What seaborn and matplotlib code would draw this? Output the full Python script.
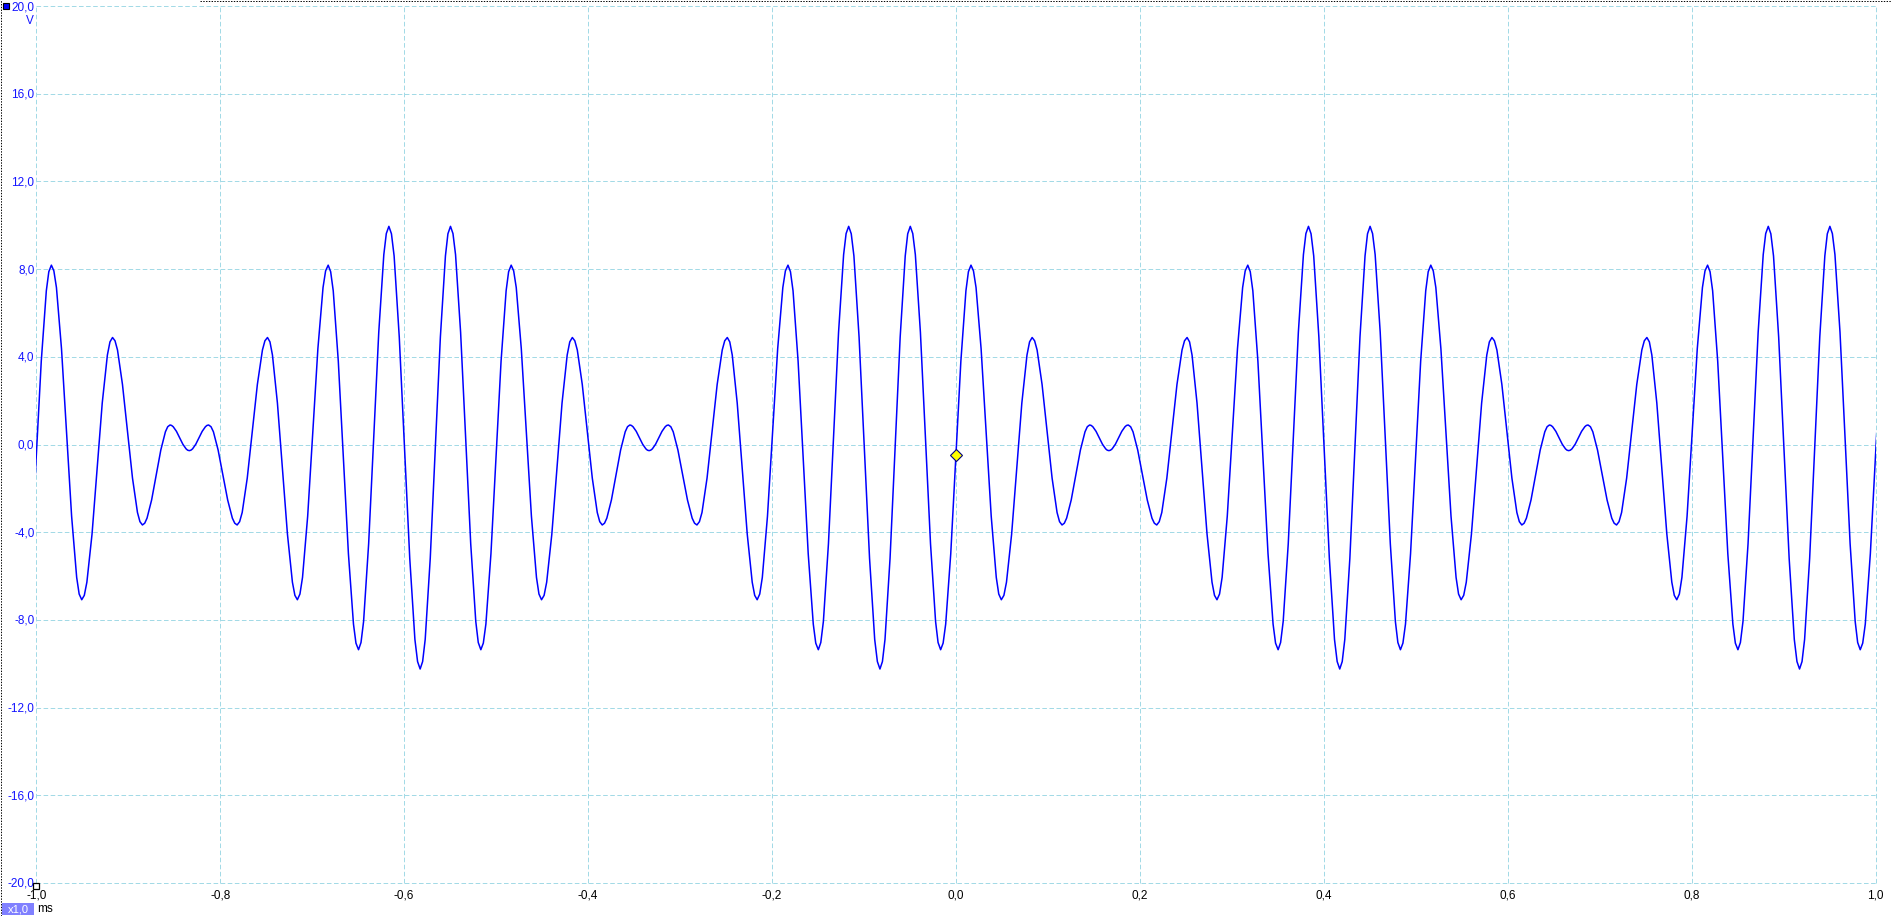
import numpy as np
import pandas as pd
import matplotlib
matplotlib.use("Agg")
import matplotlib.pyplot as plt
import matplotlib.patches as mpatches
import seaborn as sns

# one period of the trace (ms, V); the trace repeats every 0.5 ms
period_t = [
    -1.018, -1.0153, -1.0125, -1.007, -1.0015, -0.996, -0.9905, -0.9878,
    -0.985, -0.9823, -0.9795, -0.974, -0.9685, -0.963, -0.9575, -0.9548,
    -0.952, -0.9492, -0.9464, -0.9408, -0.9353, -0.9297, -0.9241, -0.9213,
    -0.9185, -0.9158, -0.9131, -0.9077, -0.9023, -0.8968, -0.8914, -0.8887,
    -0.886, -0.8835, -0.881, -0.876, -0.871, -0.866, -0.861, -0.8585,
    -0.856, -0.8543, -0.8525, -0.849, -0.8455, -0.842, -0.8385, -0.8368,
    -0.835, -0.8333, -0.8315, -0.828, -0.8245, -0.821, -0.8175, -0.8158,
    -0.814, -0.8114, -0.8088, -0.8037, -0.7985, -0.7933, -0.7882, -0.7856,
    -0.783, -0.7803, -0.7775, -0.772, -0.7665, -0.761, -0.7555, -0.7528,
    -0.750, -0.7473, -0.7446, -0.7392, -0.7338, -0.7283, -0.7229, -0.7202,
    -0.7175, -0.7147, -0.7119, -0.7063, -0.7008, -0.6952, -0.6896, -0.6868,
    -0.684, -0.6813, -0.6785, -0.673, -0.6675, -0.662, -0.6565, -0.6538,
    -0.651, -0.6483, -0.6455, -0.640, -0.6345, -0.629, -0.6235, -0.6208,
    -0.618, -0.6152, -0.6123, -0.6067, -0.601, -0.5953, -0.5897, -0.5868,
    -0.584, -0.5813, -0.5785, -0.573, -0.5675, -0.562, -0.5565, -0.5538,
    -0.551, -0.5483, -0.5455, -0.540, -0.5345, -0.529, -0.5235, -0.5208,
]
period_v = [
    -9.36, -9.06, -8.19, -4.98, -0.59, 3.80, 7.01, 7.88,
    8.18, 7.92, 7.16, 4.37, 0.55, -3.27, -6.06, -6.82,
    -7.08, -6.88, -6.28, -4.09, -1.10, 1.89, 4.08, 4.68,
    4.88, 4.73, 4.31, 2.74, 0.61, -1.53, -3.10, -3.52,
    -3.67, -3.59, -3.36, -2.53, -1.39, -0.25, 0.58, 0.81,
    0.89, 0.87, 0.81, 0.60, 0.31, 0.01, -0.20, -0.26,
    -0.28, -0.26, -0.20, 0.01, 0.31, 0.60, 0.81, 0.87,
    0.89, 0.81, 0.58, -0.25, -1.39, -2.53, -3.36, -3.59,
    -3.67, -3.52, -3.10, -1.53, 0.61, 2.74, 4.31, 4.73,
    4.88, 4.68, 4.08, 1.89, -1.10, -4.09, -6.28, -6.88,
    -7.08, -6.82, -6.06, -3.27, 0.55, 4.37, 7.16, 7.92,
    8.18, 7.88, 7.01, 3.80, -0.59, -4.98, -8.19, -9.06,
    -9.36, -9.03, -8.07, -4.53, 0.30, 5.12, 8.66, 9.62,
    9.95, 9.61, 8.60, 4.90, -0.15, -5.19, -8.89, -9.90,
    -10.24, -9.90, -8.89, -5.19, -0.15, 4.90, 8.60, 9.61,
    9.95, 9.62, 8.66, 5.12, 0.30, -4.53, -8.07, -9.03,
]
# where each repeat of the period starts, relative to the first one
period_shift = [0.0014, 0.5014, 1.0014, 1.5014]

# last rising edge at the right border
tail_t = [0.9834, 0.9861, 0.9889, 0.9944, 0.9999, 1.0054, 1.0109, 1.0136, 1.0164]
tail_v = [-9.36, -9.06, -8.19, -4.98, -0.59, 3.80, 7.01, 7.88, 8.18]

trigger_t = [0.0]
trigger_v = [-0.5]

x_ticks = [-1.0, -0.8, -0.6, -0.4, -0.2, 0.0, 0.2, 0.4, 0.6, 0.8, 1.0]
x_labels = ["-1,0", "-0,8", "-0,6", "-0,4", "-0,2", "0,0", "0,2", "0,4", "0,6", "0,8", "1,0"]
y_ticks = [-20, -16, -12, -8, -4, 0, 4, 8, 12, 16, 20]
y_labels = ["-20,0", "-16,0", "-12,0", "-8,0", "-4,0", "0,0", "4,0", "8,0", "12,0", "16,0", "20,0"]

sinal = pd.DataFrame({
    "tempo": np.concatenate([np.array(period_t) + s for s in period_shift] + [tail_t]),
    "tensao": np.concatenate([period_v] * len(period_shift) + [tail_v]),
})

sns.set_style("white")
plt.rcParams["font.family"] = ["Liberation Sans", "DejaVu Sans"]
plt.rcParams["lines.scale_dashes"] = False

W, H = 1892, 916
fig = plt.figure(figsize=(W / 100, H / 100), dpi=100)
fig.patch.set_facecolor("white")


def px(x, y):
    return x / W, 1 - y / H


ax_l, ax_r, ax_t, ax_b = 36.3, 1875.5, 6.0, 883.0
ax = fig.add_axes([ax_l / W, 1 - ax_b / H, (ax_r - ax_l) / W, (ax_b - ax_t) / H])
ax.set_facecolor("white")

grid_kw = dict(color="#a3dae6", linewidth=0.72, linestyle=(0, (3.3, 1.8)))
for xv in x_ticks:
    ax.axvline(xv, clip_on=False, zorder=1, **grid_kw)
for yv in y_ticks:
    ax.axhline(yv, clip_on=False, zorder=1, **grid_kw)

sns.lineplot(data=sinal, x="tempo", y="tensao", ax=ax, color="#0000ff",
             linewidth=1.1, estimator=None, sort=False, zorder=3)

ax.plot(trigger_t, trigger_v, marker="D", markersize=6.5, markerfacecolor="#ffff00",
        markeredgecolor="#000080", markeredgewidth=0.8, linestyle="none", zorder=4)

ax.set_xlim(-1, 1)
ax.set_ylim(-20, 20)
ax.set_xticks([])
ax.set_yticks([])
ax.set_xlabel("")
ax.set_ylabel("")
for s in ax.spines.values():
    s.set_visible(False)

# tick labels, placed like the scope software does
for yv, lab in zip(y_ticks, y_labels):
    ypix = ax_t + (20 - yv) / 40 * (ax_b - ax_t)
    fig.text(*px(34.5, ypix + 1), lab, color="#1414ff", fontsize=8.5,
             ha="right", va="center")
for xv, lab in zip(x_ticks, x_labels):
    xpix = ax_l + (xv + 1) / 2 * (ax_r - ax_l)
    fig.text(*px(xpix, 896), lab, color="black", fontsize=8.5,
             ha="center", va="center")

fig.text(*px(30, 21), "V", color="#1414ff", fontsize=8.5, ha="center", va="center")
fig.text(*px(37, 909), "ms", color="black", fontsize=8.5, ha="left", va="center")

# channel square, top left
fig.patches.append(mpatches.Rectangle(px(2.7, 9), 6 / W, 6 / H, transform=fig.transFigure,
                                      facecolor="#0000ff", edgecolor="black", linewidth=0.8))
# zoom box x1,0
fig.patches.append(mpatches.Rectangle(px(2, 915), 32 / W, 12 / H, transform=fig.transFigure,
                                      facecolor="#8080ff", edgecolor="none"))
fig.text(*px(18, 909), "x1,0", color="white", fontsize=8, ha="center", va="center")
# little square at the axis origin
fig.patches.append(mpatches.Rectangle(px(33.3, 889), 6 / W, 6 / H, transform=fig.transFigure,
                                      facecolor="white", edgecolor="black", linewidth=0.9,
                                      zorder=5))

# dotted window border
fig.lines.append(plt.Line2D([0.5 / W, 0.5 / W], [0, 1], transform=fig.transFigure,
                            color="black", linewidth=0.7, linestyle=(0, (1, 1))))
fig.lines.append(plt.Line2D([200 / W, 1], [1 - 0.5 / H, 1 - 0.5 / H], transform=fig.transFigure,
                            color="black", linewidth=0.7, linestyle=(0, (1, 1))))

fig.savefig("out.png", dpi=100, facecolor="white")
